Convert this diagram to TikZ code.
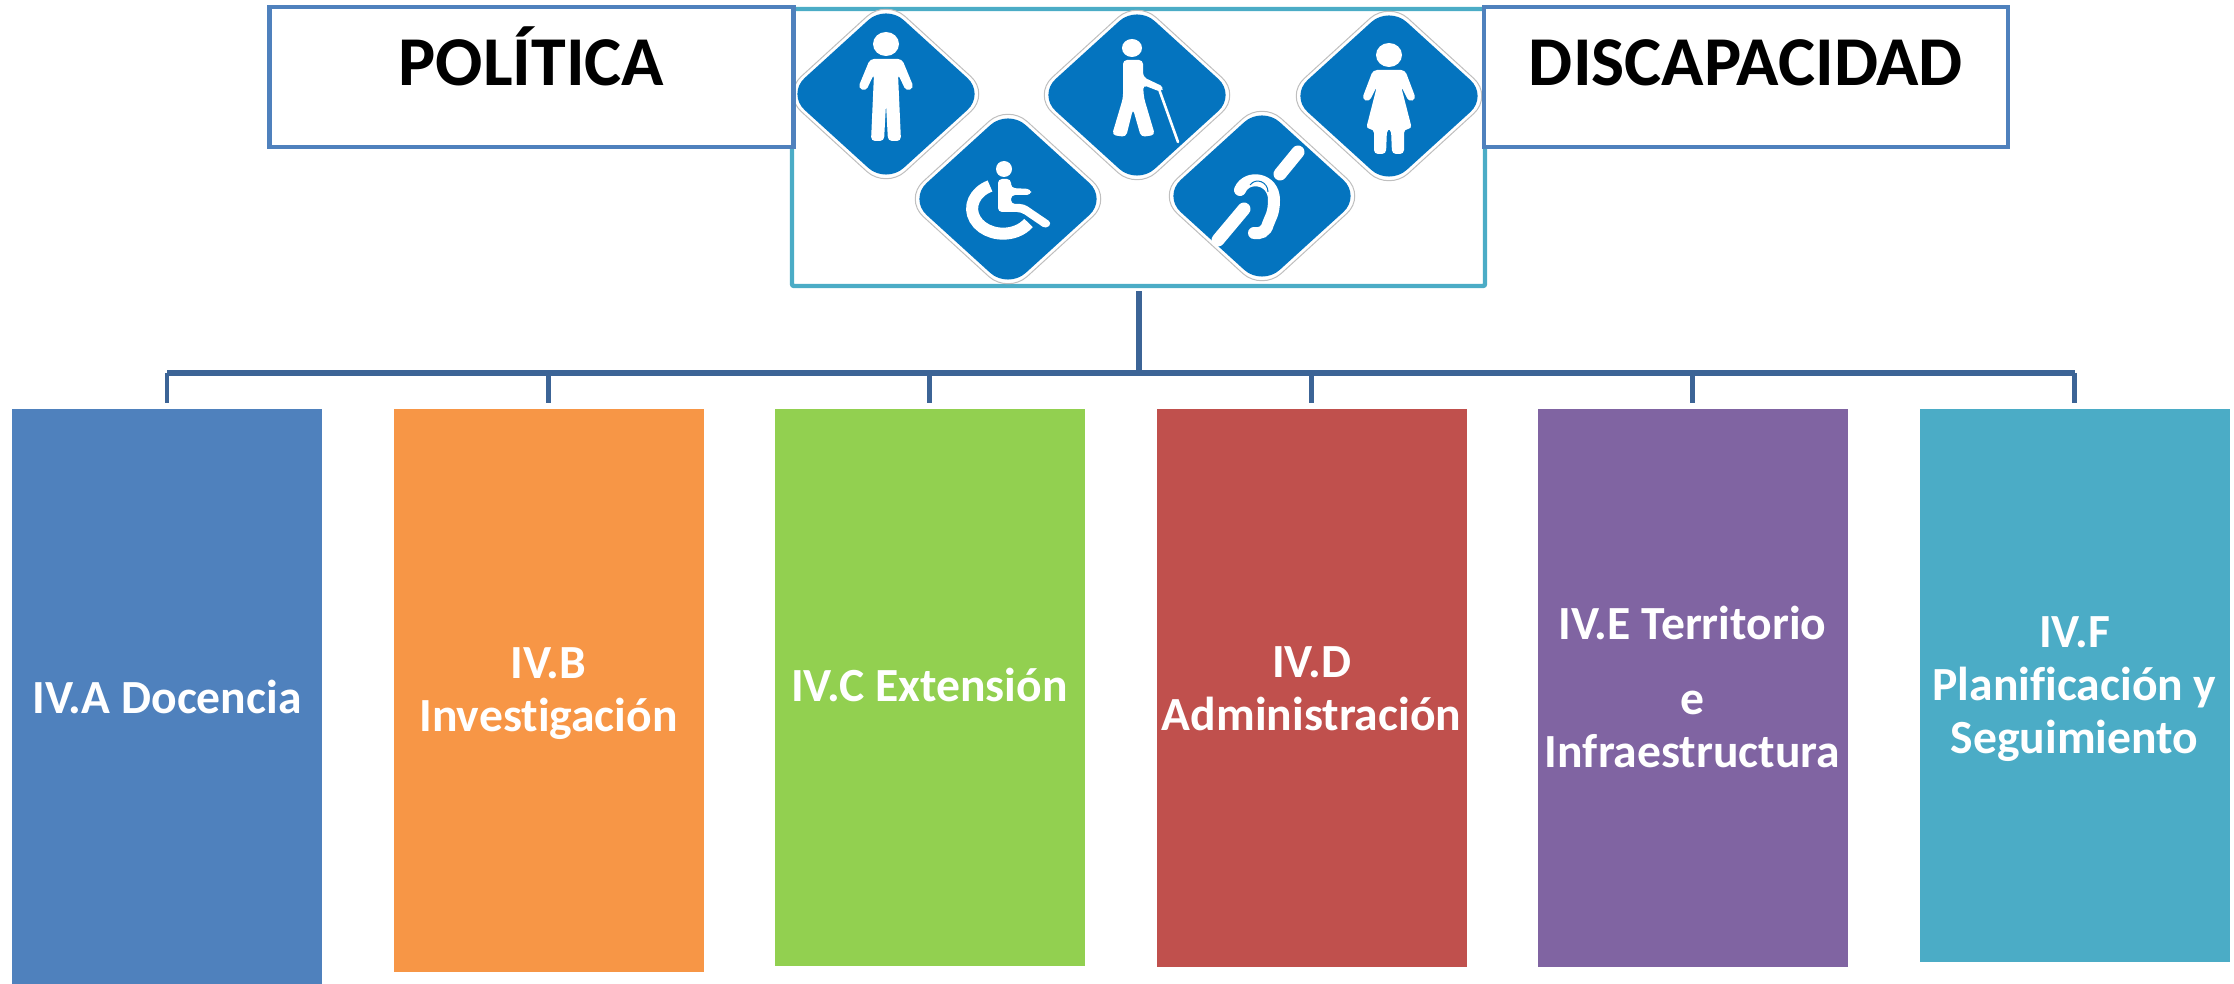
\documentclass[tikz,border=0pt]{standalone}
\usepackage{fontspec}
\setmainfont{Carlito}[Ligatures=NoCommon]
\usetikzlibrary{calc}
\definecolor{titleblue}{HTML}{4F81BD}
\definecolor{teal}{HTML}{4BACC6}
\definecolor{linkblue}{HTML}{3C6496}
\definecolor{signblue}{HTML}{0474BF}
\definecolor{unitorange}{HTML}{F79646}
\definecolor{unitgreen}{HTML}{92D050}
\definecolor{unitred}{HTML}{C0504D}
\definecolor{unitpurple}{HTML}{8064A2}
\tikzset{
  titlebox/.style = {draw=titleblue, line width=2.2pt, fill=white,
                     minimum width=262pt, minimum height=70pt,
                     font=\fontsize{35}{42}\selectfont\bfseries,
                     text height=22pt, text depth=13pt},
  iconbox/.style  = {draw=teal, line width=2.2pt, rounded corners=1pt},
  unitbox/.style  = {anchor=north, minimum width=155pt, inner xsep=0pt, text=white, align=center,
                     font=\fontsize{23.8}{26.4}\selectfont\bfseries},
  bus/.style      = {draw=linkblue, line width=3pt},
  drop/.style     = {draw=linkblue, line width=2.2pt, shorten >=3pt},
  figure/.style   = {fill=white, rounded corners=2pt},
  stroke/.style   = {draw=white, line cap=round},
  signbase/.pic   = {
    \draw[draw=black!25, line width=0.5pt, fill=white, rounded corners=13pt]
      (-104,0) -- (0,-95) -- (104,0) -- (0,95) -- cycle;
    \fill[signblue, rounded corners=12pt]
      (-99,0) -- (0,-90) -- (99,0) -- (0,90) -- cycle;
  },
  signman/.pic    = {
    \pic {signbase};
    \fill[white] (0,-50) ellipse [x radius=6.5pt, y radius=6pt];
    \fill[figure] (-16,-35) -- (16,-35) -- (28,-6) -- (20,-3) -- (12,-20) -- (15,47) -- (2,47)
      -- (0,10) -- (-2,47) -- (-15,47) -- (-12,-20) -- (-20,-3) -- (-28,-6) -- cycle;
  },
  signcane/.pic   = {
    \pic {signbase};
    \fill[white] (-5,-47) ellipse [x radius=5pt, y radius=4.5pt];
    \fill[figure] (-14,-35) -- (6,-35) -- (6,-18) -- (27,-8) -- (24,-3) -- (6,-10) -- (7,3)
      -- (18,40) -- (4,42) -- (-4,14) -- (-11,42) -- (-25,40) -- (-14,3) -- cycle;
    \draw[stroke, line width=1.3pt] (22,-6) -- (41,47);
  },
  signwoman/.pic  = {
    \pic {signbase};
    \fill[white] (0,-41) ellipse [x radius=6.5pt, y radius=6pt];
    \fill[figure] (-16,-26) -- (16,-26) -- (27,3) -- (20,6) -- (12,-10) -- (23,33) -- (15,33)
      -- (15,58) -- (3,58) -- (2,33) -- (-2,33) -- (-3,58) -- (-15,58) -- (-15,33) -- (-23,33)
      -- (-12,-10) -- (-20,6) -- (-27,3) -- cycle;
  },
  signwheel/.pic  = {
    \pic {signbase};
    \fill[white] (-4,-30) circle (4pt);
    \fill[figure] (-10,-20) -- (3,-20) -- (3,-11) -- (23,-10) -- (23,-4) -- (3,-4) -- (3,5)
      -- (16,5) -- (44,24) -- (38,30) -- (13,13) -- (-10,13) -- cycle;
    \draw[draw=white, line width=6pt] (-18,-13) arc (115:325:15.5pt and 12.5pt);
  },
  signear/.pic    = {
    \pic {signbase};
    \draw[stroke, line width=6.5pt] (36,-44) -- (18,-22);
    \draw[stroke, line width=6.5pt] (-18,13) -- (-44,44);
    \draw[draw=white, line width=6pt, line cap=round]
      (-22,-6) .. controls (-15,-22) and (12,-18) .. (12,4)
      .. controls (12,18) and (8,22) .. (6,28) .. controls (4,36) and (-2,38) .. (-8,37);
    \draw[draw=signblue, line width=0.5pt] (-12,-11) .. controls (-6,-19) and (6,-14) .. (6,-4);
  },
}

\begin{document}
\begin{tikzpicture}[x=0.5pt,y=-0.5pt]
  \useasboundingbox (0,0) rectangle (2234,984);

  \node[iconbox, minimum width=346.5pt, minimum height=138.5pt] (icons) at (1138.5,147.5) {};
  \pic at (886,94)  {signman};
  \pic at (1137,95) {signcane};
  \pic at (1389,96) {signwoman};
  \pic at (1008,199) {signwheel};
  \pic at (1262,196) {signear};

  \node[titlebox] (politica) at (531.5,77) {POLÍTICA};
  \node[titlebox] (discapacidad) at (1746,77) {DISCAPACIDAD};

  \node[unitbox, fill=titleblue, minimum height=287.5pt] (docencia) at (167,409)
    {IV.A Docencia};
  \node[unitbox, fill=unitorange, minimum height=281.5pt, text depth=1pt] (investigacion) at (548.5,409)
    {IV.B\\Investigación};
  \node[unitbox, fill=unitgreen, minimum height=278.5pt, text depth=3pt] (extension) at (929.5,409)
    {IV.C Extensión};
  \node[unitbox, fill=unitred, minimum height=279pt] (administracion) at (1311.5,409)
    {IV.D\\Administración};
  \node[unitbox, fill=unitpurple, minimum height=279pt, text depth=1.5pt] (territorio) at (1692.5,409)
    {IV.E Territorio\\[11pt]e\\Infraestructura};
  \node[unitbox, fill=teal, minimum height=276.5pt, text depth=1pt] (planificacion) at (2074.5,409)
    {IV.F\\Planificación y\\Seguimiento};

  \coordinate (busmid) at (icons.south |- 0,373);
  \draw[bus] ([yshift=-1.5pt]icons.south) -- (busmid);
  \draw[bus] (docencia |- busmid) -- (planificacion |- busmid);
  \foreach \unit in {docencia,investigacion,extension,administracion,territorio,planificacion}
    \draw[drop] (\unit |- busmid) -- (\unit.north);
\end{tikzpicture}
\end{document}
